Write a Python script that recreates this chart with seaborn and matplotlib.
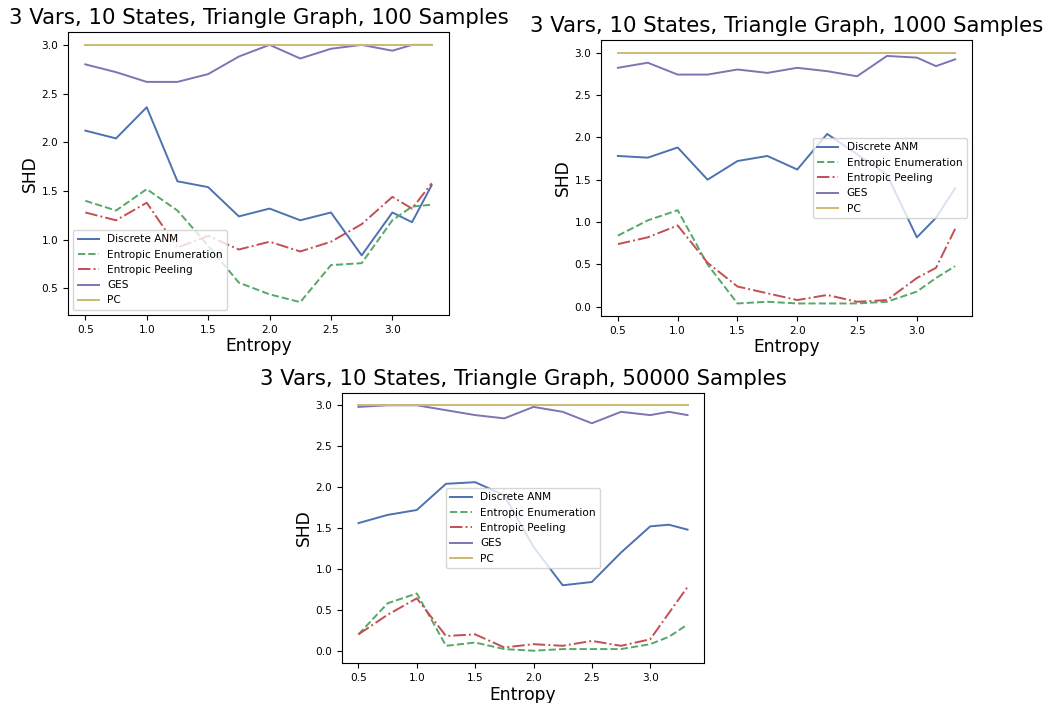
import matplotlib
matplotlib.use("Agg")
import matplotlib.pyplot as plt
import seaborn as sns
import pandas as pd

# Entropy grid shared by all three experiments
entropy = [0.5, 0.75, 1.0, 1.25, 1.5, 1.75, 2.0, 2.25, 2.5, 2.75, 3.0, 3.16, 3.32]

methods = ["Discrete ANM", "Entropic Enumeration", "Entropic Peeling", "GES", "PC"]

# 100 samples
anm_100 = [2.12, 2.04, 2.36, 1.60, 1.54, 1.24, 1.32, 1.20, 1.28, 0.84, 1.28, 1.18, 1.56]
enum_100 = [1.40, 1.30, 1.52, 1.30, 0.94, 0.56, 0.44, 0.36, 0.74, 0.76, 1.20, 1.34, 1.36]
peel_100 = [1.28, 1.20, 1.38, 0.92, 1.04, 0.90, 0.98, 0.88, 0.98, 1.16, 1.44, 1.32, 1.58]
ges_100 = [2.80, 2.72, 2.62, 2.62, 2.70, 2.88, 3.00, 2.86, 2.96, 3.00, 2.94, 3.00, 3.00]
pc_100 = [3.0] * 13

# 1000 samples
anm_1000 = [1.78, 1.76, 1.88, 1.50, 1.72, 1.78, 1.62, 2.04, 1.80, 1.56, 0.82, 1.05, 1.40]
enum_1000 = [0.84, 1.02, 1.14, 0.50, 0.04, 0.06, 0.04, 0.04, 0.04, 0.06, 0.18, 0.34, 0.48]
peel_1000 = [0.74, 0.82, 0.96, 0.52, 0.24, 0.16, 0.08, 0.14, 0.06, 0.08, 0.34, 0.46, 0.92]
ges_1000 = [2.82, 2.88, 2.74, 2.74, 2.80, 2.76, 2.82, 2.78, 2.72, 2.96, 2.94, 2.84, 2.92]
pc_1000 = [3.0] * 13

# 50000 samples
anm_50000 = [1.56, 1.66, 1.72, 2.04, 2.06, 1.90, 1.27, 0.80, 0.84, 1.20, 1.52, 1.54, 1.48]
enum_50000 = [0.20, 0.58, 0.70, 0.06, 0.10, 0.02, 0.00, 0.02, 0.02, 0.02, 0.08, 0.17, 0.32]
peel_50000 = [0.20, 0.44, 0.64, 0.18, 0.20, 0.04, 0.08, 0.06, 0.12, 0.06, 0.14, 0.46, 0.78]
ges_50000 = [2.98, 3.00, 3.00, 2.94, 2.88, 2.84, 2.98, 2.92, 2.78, 2.92, 2.88, 2.92, 2.88]
pc_50000 = [3.0] * 13

titles = [
    "3 Vars, 10 States, Triangle Graph, 100 Samples",
    "3 Vars, 10 States, Triangle Graph, 1000 Samples",
    "3 Vars, 10 States, Triangle Graph, 50000 Samples",
]
results = [
    [anm_100, enum_100, peel_100, ges_100, pc_100],
    [anm_1000, enum_1000, peel_1000, ges_1000, pc_1000],
    [anm_50000, enum_50000, peel_50000, ges_50000, pc_50000],
]

palette = sns.color_palette("deep6")
line_colors = [palette[0], palette[1], palette[2], palette[3], palette[4]]
line_styles = ["-", "--", "-.", "-", "-"]

W, H = 1044, 703
fig = plt.figure(figsize=(W / 100, H / 100), dpi=100)


def px_axes(left, top, right, bottom):
    return fig.add_axes([left / W, 1 - bottom / H, (right - left) / W, (bottom - top) / H])


axes = [
    px_axes(68, 32, 449, 315),
    px_axes(601, 40, 972, 316),
    px_axes(342, 393, 704, 663),
]
legend_locs = ["lower left", "center right", "center"]

for ax, title, series, loc in zip(axes, titles, results, legend_locs):
    for name, values, color, ls in zip(methods, series, line_colors, line_styles):
        df = pd.DataFrame({"Entropy": entropy, "SHD": values})
        sns.lineplot(data=df, x="Entropy", y="SHD", ax=ax, color=color,
                     linestyle=ls, label=name, linewidth=1.4)
    ax.set_title(title, fontsize=15.3)
    ax.set_xlabel("Entropy", fontsize=12.3, labelpad=2)
    ax.set_ylabel("SHD", fontsize=12.3, labelpad=1.5)
    ax.tick_params(labelsize=7.6)
    ax.set_xticks([0.5, 1.0, 1.5, 2.0, 2.5, 3.0])
    ax.legend(loc=loc, fontsize=7.6)

fig.savefig("out.png", dpi=100)
